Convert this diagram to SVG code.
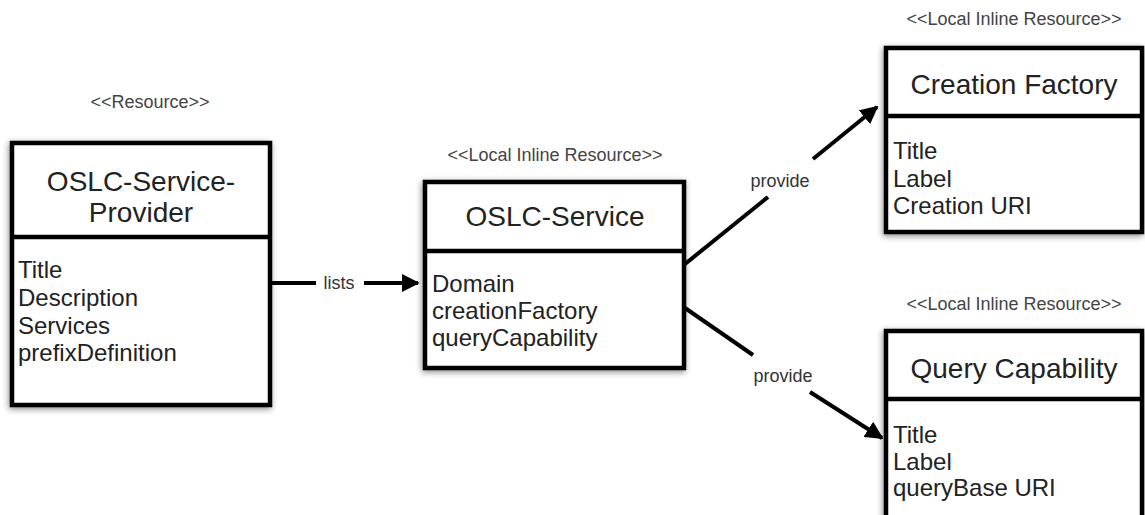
<svg xmlns="http://www.w3.org/2000/svg" width="1145" height="515" viewBox="0 0 1145 515">
<style>
.box{fill:#fff;stroke:#000;stroke-width:4.5}
.div{stroke:#000;stroke-width:4.5}
.title{font-family:"Liberation Sans",Arial,sans-serif;font-size:28px;fill:#222;text-anchor:middle}
.body{font-family:"Liberation Sans",Arial,sans-serif;font-size:24px;fill:#222}
.st{font-family:"Liberation Sans",Arial,sans-serif;font-size:18px;fill:#444;text-anchor:middle}
.lbl{font-family:"Liberation Sans",Arial,sans-serif;font-size:18px;fill:#333;text-anchor:middle}
.conn{stroke:#000;stroke-width:4;fill:none}
</style>
<defs>
<filter id="sh" x="-10%" y="-10%" width="125%" height="125%">
<feDropShadow dx="-1" dy="2" stdDeviation="3" flood-color="#000" flood-opacity="0.45"/>
</filter>
<marker id="ah" viewBox="0 0 10 10" refX="9" refY="5" markerWidth="4.5" markerHeight="4.5" orient="auto" markerUnits="strokeWidth">
<path d="M0,0 L10,5 L0,10 z" fill="#000"/>
</marker>
</defs>
<g id="provider">
<text class="st" x="150" y="108">&lt;&lt;Resource&gt;&gt;</text>
<rect class="box" x="12" y="143" width="258" height="262" filter="url(#sh)"/>
<line class="div" x1="12" y1="237" x2="270" y2="237"/>
<text class="title" x="141" y="191">OSLC-Service-</text>
<text class="title" x="141" y="222">Provider</text>
<text class="body" x="18" y="278">Title</text>
<text class="body" x="18" y="306">Description</text>
<text class="body" x="18" y="334">Services</text>
<text class="body" x="18" y="361">prefixDefinition</text>
</g>
<g id="service">
<text class="st" x="555" y="161">&lt;&lt;Local Inline Resource&gt;&gt;</text>
<rect class="box" x="425" y="182" width="259" height="186" filter="url(#sh)"/>
<line class="div" x1="425" y1="251" x2="684" y2="251"/>
<text class="title" x="555" y="226">OSLC-Service</text>
<text class="body" x="432" y="292">Domain</text>
<text class="body" x="432" y="319">creationFactory</text>
<text class="body" x="432" y="346">queryCapability</text>
</g>
<g id="creationFactory">
<text class="st" x="1014" y="25">&lt;&lt;Local Inline Resource&gt;&gt;</text>
<rect class="box" x="886" y="48" width="256" height="184" filter="url(#sh)"/>
<line class="div" x1="886" y1="116" x2="1142" y2="116"/>
<text class="title" x="1014" y="94">Creation Factory</text>
<text class="body" x="893" y="159">Title</text>
<text class="body" x="893" y="187">Label</text>
<text class="body" x="893" y="214">Creation URI</text>
</g>
<g id="queryCapability">
<text class="st" x="1014" y="310">&lt;&lt;Local Inline Resource&gt;&gt;</text>
<rect class="box" x="886" y="331" width="256" height="200" filter="url(#sh)"/>
<line class="div" x1="886" y1="399" x2="1142" y2="399"/>
<text class="title" x="1014" y="378">Query Capability</text>
<text class="body" x="893" y="443">Title</text>
<text class="body" x="893" y="470">Label</text>
<text class="body" x="893" y="496">queryBase URI</text>
</g>
<g id="connectors">
<line class="conn" x1="272" y1="283" x2="316" y2="283"/>
<text class="lbl" x="339" y="289">lists</text>
<line class="conn" x1="364" y1="283" x2="418" y2="283" marker-end="url(#ah)"/>
<line class="conn" x1="685" y1="264" x2="768" y2="197"/>
<text class="lbl" x="780" y="187">provide</text>
<line class="conn" x1="813" y1="159" x2="877" y2="107" marker-end="url(#ah)"/>
<line class="conn" x1="685" y1="308" x2="753" y2="355"/>
<text class="lbl" x="783" y="382">provide</text>
<line class="conn" x1="810" y1="392" x2="882" y2="438" marker-end="url(#ah)"/>
</g>
</svg>
